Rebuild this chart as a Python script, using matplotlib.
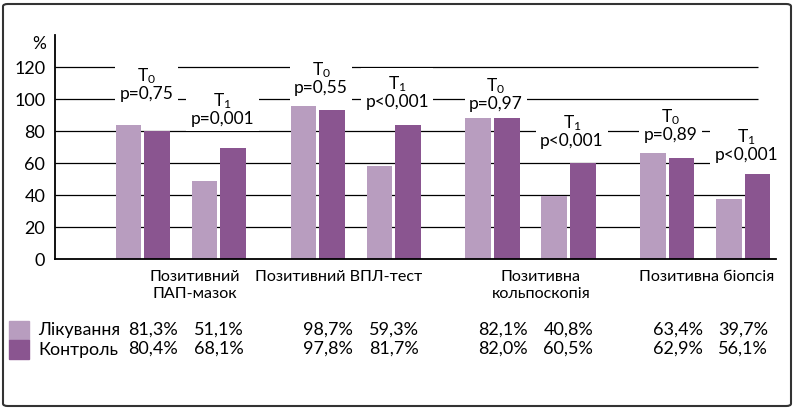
import numpy as np
import matplotlib.pyplot as plt
from matplotlib.patches import FancyBboxPatch, Rectangle
from matplotlib.transforms import blended_transform_factory

plt.rcParams['font.family'] = ['Lato', 'DejaVu Sans']
plt.rcParams['mathtext.fontset'] = 'custom'
plt.rcParams['mathtext.rm'] = 'Lato'
plt.rcParams['mathtext.it'] = 'Lato'
plt.rcParams['mathtext.default'] = 'regular'

# Дані (T0, T1 для кожної категорії)
categories = ['Позитивний\nПАП-мазок', 'Позитивний ВПЛ-тест',
              'Позитивна\nкольпоскопія', 'Позитивна біопсія']
series = ['Лікування', 'Контроль']
bars_treat = [84, 49, 95.5, 58, 88.5, 39.5, 66.5, 37.5]
bars_ctrl = [80, 69.5, 93, 84, 88.5, 60, 63.5, 53.5]
table_treat = ['81,3%', '51,1%', '98,7%', '59,3%', '82,1%', '40,8%', '63,4%', '39,7%']
table_ctrl = ['80,4%', '68,1%', '97,8%', '81,7%', '82,0%', '60,5%', '62,9%', '56,1%']
p_labels = ['T$_0$\np=0,75', 'T$_1$\np=0,001', 'T$_0$\np=0,55', 'T$_1$\np<0,001',
            'T$_0$\np=0,97', 'T$_1$\np<0,001', 'T$_0$\np=0,89', 'T$_1$\np<0,001']
p_y = [109.5, 94, 113, 104.5, 103, 80, 84, 71]
yticks = [0, 20, 40, 60, 80, 100, 120]

c_light = '#b89dbf'
c_dark = '#8a5590'

fig = plt.figure(figsize=(7.95, 4.09), dpi=100)
ax = fig.add_axes([0.0692, 0.366, 0.9069, 0.548])

groups = np.arange(len(categories))
pair_x = np.repeat(groups, 2) + np.tile([-0.2175, 0.2175], len(categories))
w = 0.147
off = 0.082

# сітка (закінчується трохи раніше осі)
ax.hlines(yticks[1:], -0.721, 3.303, color='black', linewidth=0.9, zorder=1)
ax.bar(pair_x - off, bars_treat, width=w, color=c_light, zorder=2)
ax.bar(pair_x + off, bars_ctrl, width=w, color=c_dark, zorder=2)

# підписи p
for x, y, s in zip(pair_x, p_y, p_labels):
    ax.text(x + 0.02, y, s, ha='center', va='center', fontsize=12.5, linespacing=1.0,
            zorder=3, bbox=dict(boxstyle='square,pad=0.25', fc='white', ec='none'))

ax.set_xlim(-0.721, 3.406)
ax.set_ylim(0, 140)
ax.set_yticks(yticks)
ax.set_xticks([])
ax.tick_params(axis='y', length=0, pad=7, labelsize=13)
for s in ['top', 'right']:
    ax.spines[s].set_visible(False)
ax.spines['left'].set_linewidth(1.3)
ax.spines['bottom'].set_linewidth(1.3)
ax.text(-0.81, 134.5, '%', ha='center', va='center', fontsize=12.5)

# назви категорій і таблиця під графіком
tr = blended_transform_factory(ax.transData, fig.transFigure)
cat_dx = [0.08, -0.1, 0.06, 0.01]
for g, name in zip(groups, categories):
    ax.text(g + cat_dx[g], 1 - 270 / 409, name, transform=tr, ha='center', va='top',
            fontsize=11.6, linespacing=1.25)

val_dx = np.tile([0.06, 0.0], len(categories))
for x, dx, a, b in zip(pair_x, val_dx, table_treat, table_ctrl):
    ax.text(x + dx, 1 - 330 / 409, a, transform=tr, ha='center', va='center', fontsize=13)
    ax.text(x + dx, 1 - 349 / 409, b, transform=tr, ha='center', va='center', fontsize=13)

for i, (name, c) in enumerate(zip(series, [c_light, c_dark])):
    yc = 330 + 19.5 * i
    fig.patches.append(Rectangle((9 / 795, 1 - (yc + 9.5) / 409), 20 / 795, 19 / 409,
                                 transform=fig.transFigure, color=c))
    fig.text(38 / 795, 1 - yc / 409, name, ha='left', va='center', fontsize=12.8)

# рамка
fig.patches.append(FancyBboxPatch((3 / 795, 3 / 409), 788 / 795, 402 / 409,
                                  boxstyle='round,pad=0,rounding_size=0.006',
                                  transform=fig.transFigure, fill=False,
                                  ec='#333333', linewidth=1.5))

fig.savefig('out.png', dpi=100)
